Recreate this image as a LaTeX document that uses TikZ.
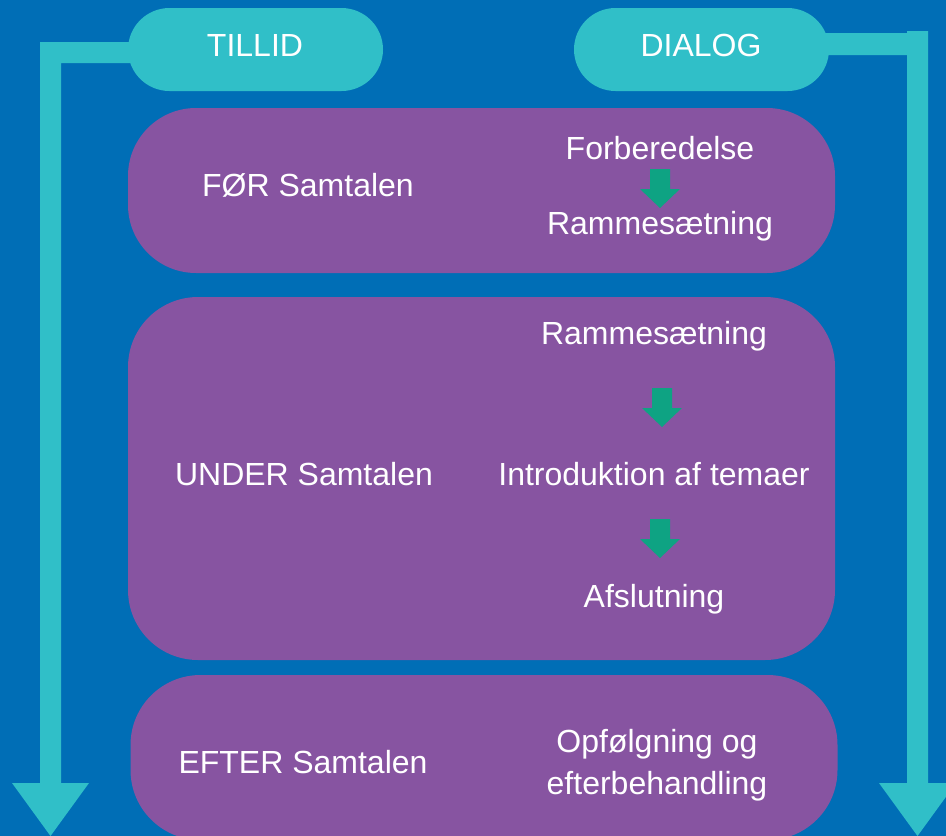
\documentclass[tikz,border=0pt]{standalone}
\usepackage{fontspec}
\setmainfont{Liberation Sans}
\definecolor{bgblue}{RGB}{0,110,182}
\definecolor{teal}{RGB}{48,191,200}
\definecolor{purp}{RGB}{135,84,161}
\definecolor{grn}{RGB}{14,163,131}
\tikzset{
  lbl/.style={text=white, font=\fontsize{32}{38}\selectfont, anchor=base, inner sep=0pt},
  pill/.style={fill=teal, rounded corners=41.5pt, minimum width=255pt, minimum height=83pt, inner sep=0pt},
  phase/.style={fill=purp, minimum width=707pt, inner sep=0pt},
  bigarrow/.style={fill=teal},
  garrow/.pic={\fill[grn] (-10,0) -- (10,0) -- (10,20) -- (20,20) -- (0,39) -- (-20,20) -- (-10,20) -- cycle;}
}
\begin{document}
\begin{tikzpicture}[x=1pt,y=-1pt]
\useasboundingbox (0,0) rectangle (946,836);
\clip (0,0) rectangle (946,836);
\fill[bgblue] (0,0) rectangle (946,836);
% big teal arrows
\coordinate (lt) at (40,42);
\coordinate (ltip) at (50.5,836);
\fill[bigarrow] (lt) -- (140,42) -- (140,63) -- (61,63) -- (61,783) -- (89,783) -- (ltip) -- (12,783) -- (40,783) -- cycle;
\coordinate (rt) at (928,31);
\coordinate (rtip) at (917.5,836);
\fill[bigarrow] (810,33) -- (907,33) -- (907,31) -- (rt) -- (928,783) -- (956,783) -- (rtip) -- (879,783) -- (907,783) -- (907,55) -- (810,55) -- cycle;
% pills
\node[pill] (tillidbox) at (255.5,49.5) {};
\node[pill] (dialogbox) at (701.5,49.5) {};
\node[lbl] (tillid) at (255,56.5) {TILLID};
\node[lbl] (dialog) at (701,56.5) {DIALOG};
% phases
\node[phase, minimum height=165pt, rounded corners=68pt] (before) at (481.5,190.5) {};
\node[phase, minimum height=363pt, rounded corners=70pt] (during) at (481.5,478.5) {};
\node[phase, minimum height=165pt, rounded corners=70pt] (after) at (484,757.5) {};
% texts
\node[lbl] (for) at (308,196.5) {FØR Samtalen};
\node[lbl] (forb) at (660,159.5) {Forberedelse};
\node[lbl] (ramme1) at (660,234) {Rammesætning};
\node[lbl] (under) at (304,485) {UNDER Samtalen};
\node[lbl] (ramme2) at (654,344) {Rammesætning};
\node[lbl] (intro) at (654,485) {Introduktion af temaer};
\node[lbl] (afsl) at (654,607) {Afslutning};
\node[lbl] (efter) at (303,773) {EFTER Samtalen};
\node[lbl] (opf) at (657,752) {Opfølgning og};
\node[lbl] (efterb) at (657,794) {efterbehandling};
% green arrows
\pic at (660,169) {garrow};
\pic at (662,388) {garrow};
\pic at (660,519) {garrow};
\end{tikzpicture}
\end{document}
